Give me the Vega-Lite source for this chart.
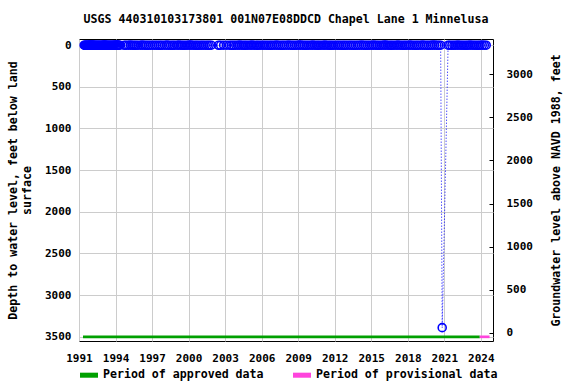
{
  "$schema": "https://vega.github.io/schema/vega-lite/v6.json",
  "width": 414,
  "height": 302,
  "autosize": {"type": "none"},
  "padding": {"left": 79, "top": 39, "right": 83, "bottom": 43},
  "background": "white",
  "title": {"text": "USGS 440310103173801 001N07E08DDCD Chapel Lane 1 Minnelusa", "font": "DejaVu Sans Mono", "fontSize": 11.6, "fontWeight": "bold", "color": "black", "offset": 12},
  "config": {
    "view": {"stroke": "black", "strokeWidth": 1},
    "axis": {"labelFont": "DejaVu Sans Mono", "labelFontWeight": "bold", "labelFontSize": 11, "labelColor": "black", "titleFont": "DejaVu Sans Mono", "titleFontWeight": "bold", "titleFontSize": 11.6, "titleColor": "black", "gridColor": "#cccccc", "gridWidth": 1, "domain": false, "labelOverlap": false},
    "legend": {"labelFont": "DejaVu Sans Mono", "labelFontWeight": "bold", "labelFontSize": 11.6, "labelColor": "black", "labelLimit": 0}
  },
  "datasets": {
    "levels": [
      {"date":"1991-06-05","depth":2.4},{"date":"1991-06-25","depth":2.7},{"date":"1991-07-15","depth":3.0},{"date":"1991-08-05","depth":3.3},{"date":"1991-08-25","depth":3.1},{"date":"1991-09-15","depth":2.8},{"date":"1991-10-05","depth":2.4},{"date":"1991-10-25","depth":2.1},{"date":"1991-11-15","depth":1.9},{"date":"1991-12-10","depth":1.8},
      {"date":"1992-01-10","depth":1.7},{"date":"1992-02-05","depth":1.6},{"date":"1992-03-05","depth":1.8},{"date":"1992-04-01","depth":2.1},{"date":"1992-04-28","depth":2.4},{"date":"1992-05-25","depth":2.7},{"date":"1992-06-20","depth":3.1},{"date":"1992-07-18","depth":3.4},{"date":"1992-08-15","depth":3.6},{"date":"1992-09-12","depth":3.2},{"date":"1992-10-10","depth":2.8},{"date":"1992-11-07","depth":2.4},{"date":"1992-12-05","depth":2.1},
      {"date":"1993-01-05","depth":1.9},{"date":"1993-02-02","depth":1.8},{"date":"1993-03-02","depth":1.9},{"date":"1993-03-30","depth":2.2},{"date":"1993-04-27","depth":2.5},{"date":"1993-05-25","depth":2.9},{"date":"1993-06-22","depth":3.2},{"date":"1993-07-20","depth":3.5},{"date":"1993-08-17","depth":3.3},{"date":"1993-09-14","depth":3.0},{"date":"1993-10-12","depth":2.6},{"date":"1993-11-09","depth":2.3},{"date":"1993-12-07","depth":2.0},
      {"date":"1994-01-11","depth":1.9},{"date":"1994-02-15","depth":1.8},{"date":"1994-03-15","depth":2.0},{"date":"1994-04-12","depth":2.3},{"date":"1994-05-10","depth":2.6},{"date":"1994-09-20","depth":3.1},{"date":"1994-11-15","depth":2.5},
      {"date":"1995-01-20","depth":2.1},{"date":"1995-03-21","depth":2.0},{"date":"1995-05-16","depth":2.4},{"date":"1995-07-11","depth":3.0},{"date":"1995-09-05","depth":3.2},{"date":"1995-11-07","depth":2.6},
      {"date":"1996-01-16","depth":2.2},{"date":"1996-03-12","depth":2.0},{"date":"1996-05-14","depth":2.5},{"date":"1996-07-09","depth":3.1},{"date":"1996-09-10","depth":3.3},{"date":"1996-11-12","depth":2.7},
      {"date":"1997-01-14","depth":2.3},{"date":"1997-03-18","depth":2.1},{"date":"1997-05-13","depth":2.3},{"date":"1997-07-15","depth":2.9},{"date":"1997-09-09","depth":3.1},{"date":"1997-11-04","depth":2.5},
      {"date":"1998-01-13","depth":2.1},{"date":"1998-03-17","depth":1.9},{"date":"1998-05-12","depth":2.4},{"date":"1998-07-14","depth":3.0},{"date":"1998-09-15","depth":3.2},{"date":"1998-11-10","depth":2.6},
      {"date":"1999-01-19","depth":2.2},{"date":"1999-03-16","depth":2.0},{"date":"1999-05-18","depth":2.2},{"date":"1999-07-13","depth":2.8},{"date":"1999-09-14","depth":3.0},{"date":"1999-11-16","depth":2.4},
      {"date":"2000-01-18","depth":2.0},{"date":"2000-03-14","depth":1.9},{"date":"2000-05-16","depth":2.5},{"date":"2000-07-18","depth":3.2},{"date":"2000-09-12","depth":3.4},{"date":"2000-11-14","depth":2.8},
      {"date":"2001-01-16","depth":2.3},{"date":"2001-03-13","depth":2.1},{"date":"2001-05-15","depth":2.6},{"date":"2001-07-17","depth":3.1},{"date":"2001-09-11","depth":3.3},{"date":"2001-11-13","depth":2.7},
      {"date":"2002-06-18","depth":2.9},{"date":"2002-08-20","depth":3.2},{"date":"2002-11-19","depth":2.6},
      {"date":"2003-02-18","depth":2.2},{"date":"2003-05-13","depth":2.4},{"date":"2003-07-15","depth":3.0},{"date":"2003-09-16","depth":3.1},{"date":"2003-11-18","depth":2.5},
      {"date":"2004-01-20","depth":2.1},{"date":"2004-03-16","depth":2.0},{"date":"2004-05-18","depth":2.3},{"date":"2004-07-20","depth":2.9},{"date":"2004-09-14","depth":3.1},{"date":"2004-11-16","depth":2.6},
      {"date":"2005-01-18","depth":2.2},{"date":"2005-03-15","depth":2.0},{"date":"2005-05-17","depth":2.4},{"date":"2005-07-19","depth":3.0},{"date":"2005-09-13","depth":3.2},{"date":"2005-11-15","depth":2.6},
      {"date":"2006-01-17","depth":2.3},{"date":"2006-03-14","depth":2.1},{"date":"2006-05-16","depth":2.5},{"date":"2006-07-18","depth":3.1},{"date":"2006-09-19","depth":3.3},{"date":"2006-11-14","depth":2.7},
      {"date":"2007-01-16","depth":2.2},{"date":"2007-03-20","depth":2.0},{"date":"2007-05-15","depth":2.4},{"date":"2007-07-17","depth":3.0},{"date":"2007-09-18","depth":3.1},{"date":"2007-11-13","depth":2.5},
      {"date":"2008-01-15","depth":2.1},{"date":"2008-03-18","depth":1.9},{"date":"2008-05-20","depth":2.3},{"date":"2008-07-15","depth":2.9},{"date":"2008-09-16","depth":3.0},{"date":"2008-11-18","depth":2.4},
      {"date":"2009-01-20","depth":2.0},{"date":"2009-03-17","depth":1.8},{"date":"2009-05-19","depth":2.2},{"date":"2009-07-14","depth":2.8},{"date":"2009-09-15","depth":3.0},{"date":"2009-11-17","depth":2.5},
      {"date":"2010-01-19","depth":2.1},{"date":"2010-03-16","depth":1.9},{"date":"2010-05-18","depth":2.3},{"date":"2010-07-20","depth":2.9},{"date":"2010-09-14","depth":3.1},{"date":"2010-11-16","depth":2.6},
      {"date":"2011-01-18","depth":2.2},{"date":"2011-03-15","depth":2.0},{"date":"2011-05-17","depth":2.4},{"date":"2011-07-19","depth":3.0},{"date":"2011-09-13","depth":3.2},{"date":"2011-11-15","depth":2.6},
      {"date":"2012-01-17","depth":2.3},{"date":"2012-03-20","depth":2.1},{"date":"2012-05-15","depth":2.6},{"date":"2012-07-17","depth":3.2},{"date":"2012-09-18","depth":3.4},{"date":"2012-11-13","depth":2.8},
      {"date":"2013-01-15","depth":2.4},{"date":"2013-03-19","depth":2.2},{"date":"2013-05-14","depth":2.5},{"date":"2013-07-16","depth":3.0},{"date":"2013-09-17","depth":3.1},{"date":"2013-11-19","depth":2.6},
      {"date":"2014-01-14","depth":2.2},{"date":"2014-03-18","depth":2.0},{"date":"2014-05-20","depth":2.4},{"date":"2014-07-15","depth":2.9},{"date":"2014-09-16","depth":3.1},{"date":"2014-11-18","depth":2.5},
      {"date":"2015-01-20","depth":2.1},{"date":"2015-03-17","depth":1.9},{"date":"2015-05-19","depth":2.3},{"date":"2015-07-14","depth":2.9},{"date":"2015-09-15","depth":3.0},{"date":"2015-11-17","depth":2.4},
      {"date":"2016-01-19","depth":2.0},{"date":"2016-03-15","depth":1.9},{"date":"2016-05-17","depth":2.3},{"date":"2016-07-19","depth":2.8},{"date":"2016-09-13","depth":3.0},{"date":"2016-11-15","depth":2.5},
      {"date":"2017-01-17","depth":2.1},{"date":"2017-03-14","depth":2.0},{"date":"2017-05-16","depth":2.4},{"date":"2017-07-18","depth":3.0},{"date":"2017-09-19","depth":3.2},{"date":"2017-11-14","depth":2.6},
      {"date":"2018-01-16","depth":2.2},{"date":"2018-03-13","depth":2.0},{"date":"2018-05-15","depth":2.4},{"date":"2018-07-17","depth":3.0},{"date":"2018-09-18","depth":3.1},{"date":"2018-11-13","depth":2.5},
      {"date":"2019-01-15","depth":2.1},{"date":"2019-03-19","depth":1.9},{"date":"2019-05-14","depth":2.3},{"date":"2019-07-16","depth":2.9},{"date":"2019-09-17","depth":3.0},{"date":"2019-11-19","depth":2.4},
      {"date":"2020-01-14","depth":2.0},{"date":"2020-03-17","depth":1.9},{"date":"2020-05-19","depth":2.3},{"date":"2020-07-14","depth":2.8},{"date":"2020-09-14","depth":2.6},{"date":"2020-10-30","depth":3390},
      {"date":"2021-04-25","depth":2.2},{"date":"2021-06-15","depth":2.7},{"date":"2021-08-17","depth":3.0},{"date":"2021-10-19","depth":2.7},{"date":"2021-12-14","depth":2.3},
      {"date":"2022-02-15","depth":2.0},{"date":"2022-04-19","depth":2.1},{"date":"2022-06-14","depth":2.6},{"date":"2022-08-16","depth":3.0},{"date":"2022-10-18","depth":2.8},{"date":"2022-12-13","depth":2.3},
      {"date":"2023-02-14","depth":2.0},{"date":"2023-04-18","depth":2.1},{"date":"2023-06-13","depth":2.6},{"date":"2023-08-15","depth":3.0},{"date":"2023-10-17","depth":2.8},{"date":"2023-12-12","depth":2.3},
      {"date":"2024-02-13","depth":2.0},{"date":"2024-04-16","depth":2.2},{"date":"2024-06-11","depth":2.6}
    ],
    "periods": [
      {"start":"1991-05-01","end":"2023-12-01","period":"Period of approved data"},
      {"start":"2023-12-01","end":"2024-09-20","period":"Period of provisional data"}
    ],
    "rightaxis": [
      {"date":"2000-01-01","elev":0},
      {"date":"2000-01-01","elev":3000}
    ]
  },
  "layer": [
    {
      "layer": [
        {
          "data": {"name": "periods"},
          "mark": {"type": "rect"},
          "encoding": {
            "x": {"field": "start", "type": "temporal",
              "scale": {"domain": [{"year":1991,"month":1,"date":1},{"year":2025,"month":1,"date":1}], "nice": false},
              "axis": {"title": null, "format": "%Y", "values": [{"year":1991},{"year":1994},{"year":1997},{"year":2000},{"year":2003},{"year":2006},{"year":2009},{"year":2012},{"year":2015},{"year":2018},{"year":2021},{"year":2024}], "grid": true, "ticks": false, "labelPadding": 11, "labelFlush": false, "labelOverlap": false, "labelBound": false, "tickCount": 12}},
            "x2": {"field": "end"},
            "y": {"datum": 3484, "type": "quantitative",
              "scale": {"domain": [-72, 3550], "reverse": true, "nice": false, "zero": false},
              "axis": {"title": ["Depth to water level, feet below land", "surface"], "format": "d", "values": [0,500,1000,1500,2000,2500,3000,3500], "grid": true, "ticks": false, "labelPadding": 8, "titlePadding": 12}},
            "y2": {"datum": 3516},
            "color": {"field": "period", "type": "nominal",
              "scale": {"domain": ["Period of approved data", "Period of provisional data"], "range": ["#00a000", "#ff44dd"]},
              "legend": {"title": null, "orient": "none", "legendX": 1, "legendY": 327, "direction": "horizontal", "symbolType": "M-1,-0.28H1V0.28H-1Z", "symbolSize": 324, "symbolStrokeWidth": 0, "labelOffset": 5, "columnPadding": 29, "padding": 0, "labelLimit": 0}}
          }
        },
        {
          "data": {"name": "levels"},
          "mark": {"type": "line", "color": "#0000ff", "strokeWidth": 1, "strokeDash": [1, 2]},
          "encoding": {
            "x": {"field": "date", "type": "temporal"},
            "y": {"field": "depth", "type": "quantitative"}
          }
        },
        {
          "data": {"name": "levels"},
          "mark": {"type": "point", "shape": "circle", "filled": false, "color": "#0000ff", "size": 64, "strokeWidth": 1.6, "opacity": 1},
          "encoding": {
            "x": {"field": "date", "type": "temporal"},
            "y": {"field": "depth", "type": "quantitative"}
          }
        }
      ]
    },
    {
      "data": {"name": "rightaxis"},
      "mark": {"type": "point", "opacity": 0},
      "encoding": {
        "x": {"field": "date", "type": "temporal"},
        "y": {"field": "elev", "type": "quantitative",
          "scale": {"domain": [-96, 3410], "nice": false, "zero": false},
          "axis": {"orient": "right", "title": "Groundwater level above NAVD 1988, feet", "format": "d", "values": [0,500,1000,1500,2000,2500,3000], "grid": false, "ticks": true, "tickSize": -4, "tickColor": "black", "labelPadding": 17, "titleAngle": 270, "titleBaseline": "top", "titlePadding": 18}}
      }
    }
  ],
  "resolve": {"scale": {"y": "independent"}, "axis": {"y": "independent"}}
}
